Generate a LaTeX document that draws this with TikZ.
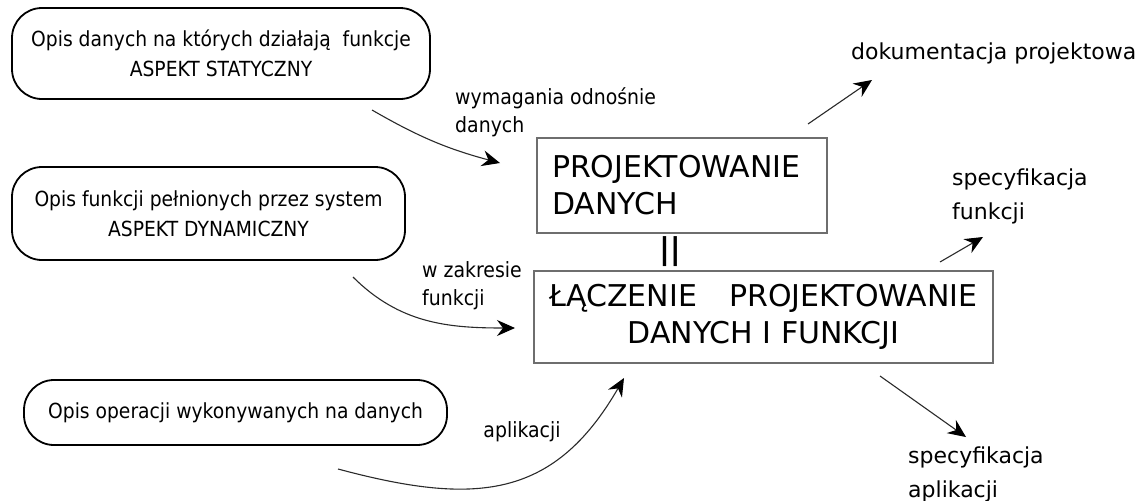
\documentclass[tikz,border=0pt]{standalone}
\usepackage{fontspec}
\setmainfont{DejaVu Sans}
\newfontfamily\waski{DejaVu Sans}[FakeStretch=0.9]
\usetikzlibrary{positioning,arrows.meta}
\definecolor{BoxGray}{HTML}{6E6E6E}
\definecolor{LineInk}{HTML}{2A2A2A}

\begin{document}
\begin{tikzpicture}[x=1pt, y=1pt,
  opis/.style={draw=black, line width=1.8pt, rounded corners=30pt, inner sep=0pt,
               align=center, font=\waski\fontsize{20.8}{30}\selectfont},
  proj/.style={draw=BoxGray, line width=1.6pt, inner sep=0pt,
               font=\fontsize{30}{37}\selectfont},
  lbl/.style={inner sep=0pt, align=left, font=\waski\fontsize{21}{28}\selectfont},
  wynik/.style={inner sep=0pt, align=left, font=\fontsize{22}{34}\selectfont},
  strz/.style={-{Stealth[length=18pt,width=16pt,inset=6pt,black]}, draw=LineInk,
               line width=1.1pt}]
  \useasboundingbox (0,0) rectangle (1144,-501);

  % opisy po lewej
  \node[opis, minimum width=418pt, minimum height=91pt] (statyczny) at (221,-53.5)
        {Opis danych na których działają~ funkcje\\ASPEKT STATYCZNY};
  \node[opis, minimum width=393pt, minimum height=93pt] (dynamiczny) at (208.5,-213.5)
        {Opis funkcji pełnionych przez system\\ASPEKT DYNAMICZNY};
  \node[opis, minimum width=423pt, minimum height=65pt] (operacje) at (235.5,-412.5)
        {Opis operacji wykonywanych na danych};

  % projektowanie
  \node[proj, minimum width=290pt, minimum height=95pt, text width=260pt, align=left]
        (projdanych) at (682,-185.5) {PROJEKTOWANIE\\DANYCH};
  \node[proj, minimum width=459pt, minimum height=92pt, align=center]
        (laczenie) at (763.5,-317) {ŁĄCZENIE\hspace{32pt}PROJEKTOWANIE\\DANYCH I FUNKCJI};
  \node[inner sep=0pt, font=\fontsize{30}{30}\selectfont\bfseries] (rownosc) at (670,-252) {||};

  % etykiety
  \node[lbl, anchor=west] (wymagania) at (455,-112) {wymagania odnośnie\\danych};
  \node[lbl, anchor=west] (zakres) at (422,-286) {w zakresie\\funkcji};
  \node[lbl] (aplikacji) at (522,-432) {aplikacji};
  \node[wynik, anchor=west] (dokumentacja) at (851,-53) {dokumentacja projektowa};
  \node[wynik, anchor=west] (specfun) at (952,-196) {specyfikacja\\funkcji};
  \node[wynik, anchor=west] (specapl) at (908,-474) {specyfikacja\\aplikacji};

  % konce strzalek
  \coordinate (st0) at (372,-110);  \coordinate (st1) at (500,-163);
  \coordinate (dy0) at (353,-277);  \coordinate (dy1) at (515,-328);
  \coordinate (op0) at (338,-469);  \coordinate (op1) at (624,-378);
  \coordinate (pd0) at (808,-124);  \coordinate (pd1) at (872,-80);
  \coordinate (lf0) at (940,-262);  \coordinate (lf1) at (983,-237);
  \coordinate (la0) at (880,-376);  \coordinate (la1) at (966,-437);

  \draw[strz] (st0) to[out=-30, in=165] (st1);
  \draw[strz] (dy0) to[out=-45, in=180] (dy1);
  \draw[strz] (op0) to[out=-15, in=240, looseness=1.2] (op1);
  \draw[strz] (pd0) -- (pd1);
  \draw[strz] (lf0) -- (lf1);
  \draw[strz] (la0) -- (la1);
\end{tikzpicture}
\end{document}
